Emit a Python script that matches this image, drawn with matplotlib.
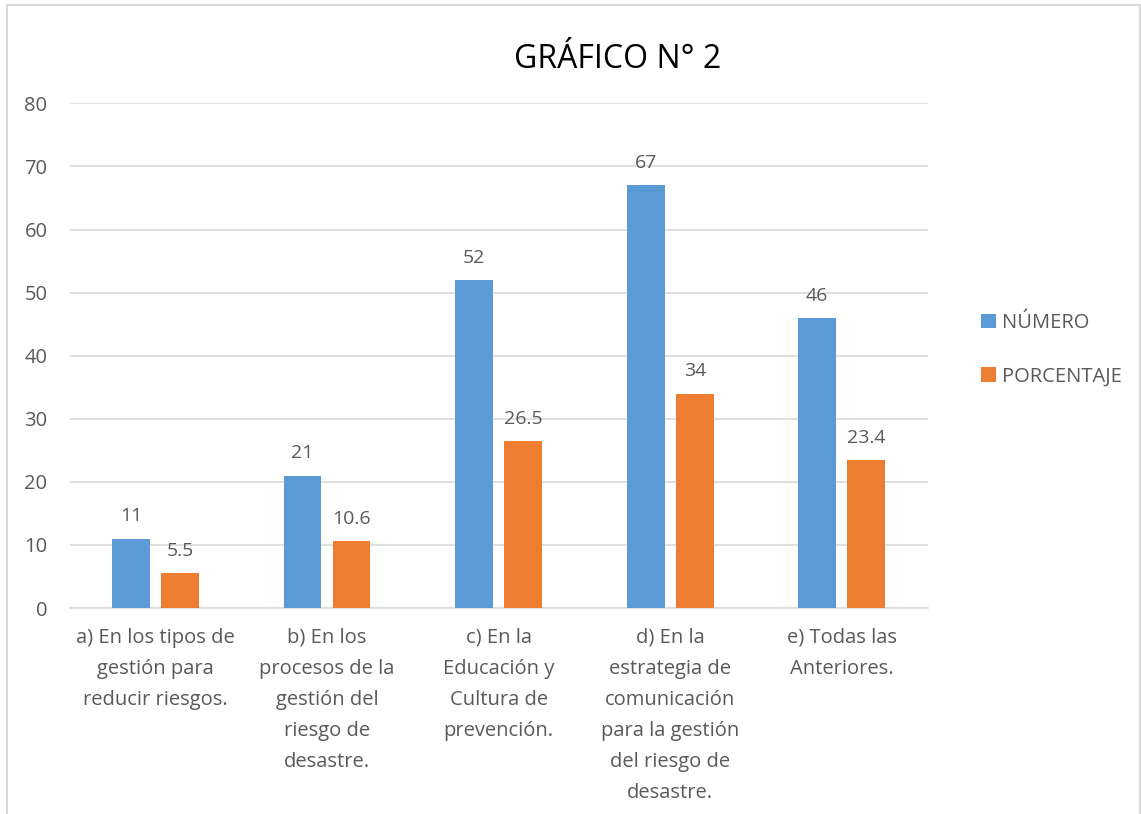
import numpy as np
import matplotlib.pyplot as plt
from matplotlib.patches import Rectangle

# Datos del gráfico
categorias = [
    "a) En los tipos de\ngestión para\nreducir riesgos.",
    "b) En los\nprocesos de la\ngestión del\nriesgo de\ndesastre.",
    "c) En la\nEducación y\nCultura de\nprevención.",
    "d) En la\nestrategia de\ncomunicación\npara la gestión\ndel riesgo de\ndesastre.",
    "e) Todas las\nAnteriores.",
]
numero = [11, 21, 52, 67, 46]
porcentaje = [5.5, 10.6, 26.5, 34, 23.4]
etiquetas_num = ["11", "21", "52", "67", "46"]
etiquetas_por = ["5.5", "10.6", "26.5", "34", "23.4"]

azul = "#5B9BD5"
naranja = "#ED7D31"
gris_texto = "#595959"
gris_linea = "#D9D9D9"

plt.rcParams['font.family'] = ['Open Sans', 'DejaVu Sans']

fig = plt.figure(figsize=(11.41, 8.14), dpi=100)
ax = fig.add_axes([0.061, 0.253, 0.752, 0.620])

x = np.arange(len(categorias))
ancho = 0.22
desp = 0.143
b1 = ax.bar(x - desp, numero, ancho, color=azul, label="NÚMERO", zorder=3)
b2 = ax.bar(x + desp, porcentaje, ancho, color=naranja, label="PORCENTAJE", zorder=3)

for barras, textos in ((b1, etiquetas_num), (b2, etiquetas_por)):
    for rect, t in zip(barras, textos):
        ax.annotate(t, (rect.get_x() + rect.get_width() / 2, rect.get_height()),
                    xytext=(0, 16), textcoords="offset points",
                    ha="center", va="center", fontsize=14, color=gris_texto)

ax.set_xlim(-0.5, len(categorias) - 0.5)
ax.set_ylim(0, 80)
ax.set_yticks(range(0, 81, 10))
ax.yaxis.grid(True, color=gris_linea, linewidth=1.2, zorder=0)
ax.set_axisbelow(True)
for s in ("top", "right", "left"):
    ax.spines[s].set_visible(False)
ax.spines["bottom"].set_color(gris_linea)
ax.spines["bottom"].set_linewidth(1.2)
ax.tick_params(axis="both", length=0, colors=gris_texto)
ax.tick_params(axis="y", pad=16, labelsize=14.5)
ax.set_xticks(x)
ax.set_xticklabels(categorias, linespacing=1.74, ha="center", va="top")
ax.tick_params(axis="x", pad=14, labelsize=14.5)

fig.text(0.541, 0.927, "GRÁFICO N° 2", ha="center", va="center",
         fontsize=23, color="black")

ax.legend(loc="center left", bbox_to_anchor=(1.041, 0.512), frameon=False,
          fontsize=14.5, labelcolor=gris_texto, handlelength=0.75,
          handleheight=0.75, handletextpad=0.3, labelspacing=1.65)

# borde del área del gráfico
fig.patches.append(Rectangle((7 / 1141, -0.05), 1133 / 1141, 1.0 - 5 / 814 + 0.05,
                             transform=fig.transFigure, fill=False,
                             edgecolor=gris_linea, linewidth=1.5))

fig.savefig("out.png", dpi=100)
